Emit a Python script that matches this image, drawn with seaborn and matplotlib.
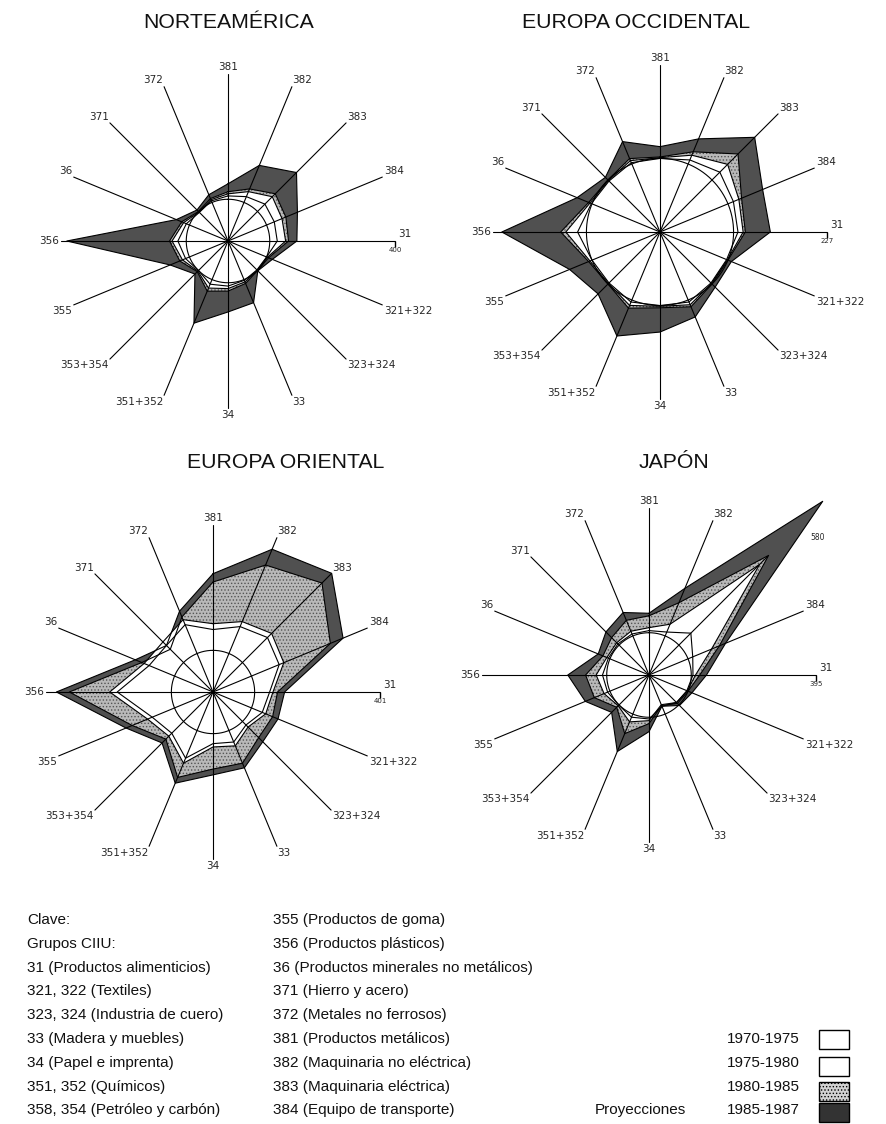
import numpy as np
import pandas as pd
import matplotlib
matplotlib.use("Agg")
import matplotlib.pyplot as plt
import seaborn as sns
from matplotlib.patches import Rectangle

# spokes clockwise from the top
SPOKES = ["381", "382", "383", "384", "31", "321+322", "323+324", "33",
          "34", "351+352", "353+354", "355", "356", "36", "371", "372"]
PERIODS = ["1970-1975", "1975-1980", "1980-1985", "1985-1987"]
REGIONS = ["NORTEAMÉRICA", "EUROPA OCCIDENTAL", "EUROPA ORIENTAL", "JAPÓN"]
SCALE_MAX = [400, 227, 401, 395]
BASE = 100  # 1970 = 100

# index levels at the end of each period
na_1975 = [108, 115, 125, 120, 118, 100, 98, 102, 108, 112, 100, 110, 120, 108, 97, 104]
na_1980 = [113, 128, 150, 140, 138, 102, 99, 106, 114, 122, 102, 118, 134, 115, 98, 107]
na_1985 = [118, 135, 160, 150, 145, 105, 100, 110, 120, 130, 104, 125, 140, 120, 100, 110]
na_1987 = [137, 196, 232, 180, 165, 115, 101, 160, 170, 213, 112, 150, 386, 134, 105, 120]

eo_1975 = [100, 106, 115, 108, 106, 98, 98, 103, 100, 103, 98, 100, 112, 101, 98, 102]
eo_1980 = [101, 113, 130, 116, 113, 99, 99, 107, 101, 108, 99, 103, 128, 103, 99, 105]
eo_1985 = [102, 118, 150, 120, 116, 100, 100, 110, 103, 112, 100, 105, 135, 105, 100, 108]
eo_1987 = [116, 137, 182, 151, 150, 105, 106, 125, 136, 153, 119, 133, 215, 122, 105, 133]

eor_1975 = [150, 170, 185, 172, 136, 128, 112, 130, 124, 172, 140, 158, 230, 166, 158, 175]
eor_1980 = [164, 183, 199, 184, 144, 137, 119, 140, 132, 185, 150, 170, 248, 179, 170, 188]
eor_1985 = [264, 330, 370, 305, 155, 155, 155, 185, 185, 222, 160, 210, 345, 185, 145, 195]
eor_1987 = [284, 371, 403, 338, 172, 169, 169, 197, 199, 237, 173, 226, 376, 202, 158, 210]

jp_1975 = [105, 110, 140, 112, 104, 97, 92, 80, 104, 108, 101, 106, 110, 104, 104, 105]
jp_1980 = [112, 130, 370, 160, 110, 98, 92, 76, 108, 120, 103, 115, 125, 108, 108, 112]
jp_1985 = [140, 185, 400, 180, 120, 100, 95, 78, 115, 150, 108, 140, 150, 118, 125, 140]
jp_1987 = [146, 222, 581, 196, 136, 110, 102, 80, 134, 196, 125, 163, 192, 130, 144, 160]

VALUES = [
    [na_1975, na_1980, na_1985, na_1987],
    [eo_1975, eo_1980, eo_1985, eo_1987],
    [eor_1975, eor_1980, eor_1985, eor_1987],
    [jp_1975, jp_1980, jp_1985, jp_1987],
]
JP_PEAK_LABEL = "580"

clave_col1 = ["Clave:", "Grupos CIIU:", "31 (Productos alimenticios)",
              "321, 322 (Textiles)", "323, 324 (Industria de cuero)",
              "33 (Madera y muebles)", "34 (Papel e imprenta)",
              "351, 352 (Químicos)", "358, 354 (Petróleo y carbón)"]
clave_col2 = ["355 (Productos de goma)", "356 (Productos plásticos)",
              "36 (Productos minerales no metálicos)", "371 (Hierro y acero)",
              "372 (Metales no ferrosos)", "381 (Productos metálicos)",
              "382 (Maquinaria no eléctrica)", "383 (Maquinaria eléctrica)",
              "384 (Equipo de transporte)"]

# layout in pixels of the 887x1124 picture
W, H = 887, 1124
CENTERS = [(228, 241), (660, 232), (213, 692), (649, 675)]
R_PX = 167
TITLE_POS = [(143, 22), (522, 22), (187, 462), (639, 462)]

DARK = "#505050"
STIP = "#b9b9b9"
STIP_DOTS = "#555555"

sns.set_theme(style="white")
plt.rcParams["font.family"] = ["Liberation Sans", "DejaVu Sans"]
plt.rcParams["hatch.linewidth"] = 0.6

fig = plt.figure(figsize=(W / 100, H / 100), dpi=100)
fig.patch.set_facecolor("white")

# full-figure axes in pixel coords for titles and the key
lax = fig.add_axes([0, 0, 1, 1])
lax.set_xlim(0, W)
lax.set_ylim(H, 0)
lax.set_axis_off()

theta = np.arange(len(SPOKES)) * 2 * np.pi / len(SPOKES)
theta_c = np.append(theta, 2 * np.pi)


def close(v):
    return np.append(v, v[0])


def draw_radar(ax, series, smax, peak_label=None):
    # painter's order: outer period first
    ax.fill(theta_c, close(series[3]), facecolor=DARK, edgecolor="none", zorder=1, clip_on=False)
    ax.fill(theta_c, close(series[2]), facecolor=STIP, edgecolor=STIP_DOTS, hatch=".....",
            linewidth=0, zorder=2, clip_on=False)
    ax.fill(theta_c, close(series[1]), facecolor="white", edgecolor="none", zorder=3, clip_on=False)
    ax.fill(theta_c, close(series[0]), facecolor="white", edgecolor="none", zorder=4, clip_on=False)

    rows = []
    for p, vals in zip(PERIODS, series):
        for t, r in zip(theta_c, close(vals)):
            rows.append({"theta": t, "r": r, "period": p})
    df = pd.DataFrame(rows)
    sns.lineplot(data=df, x="theta", y="r", hue="period",
                 palette={p: "black" for p in PERIODS}, sort=False, estimator=None,
                 legend=False, lw=0.8, ax=ax, clip_on=False, zorder=5)

    circ = np.linspace(0, 2 * np.pi, 361)
    ax.plot(circ, np.full_like(circ, BASE), color="black", lw=0.8, zorder=6)

    for k, (t, lab) in enumerate(zip(theta, SPOKES)):
        ax.plot([t, t], [0, smax], color="black", lw=0.8, zorder=7, clip_on=False)
        if lab == "31":
            ax.plot([t], [smax], marker=3, markersize=4, color="black", clip_on=False, zorder=7)
            ax.annotate("31", (t, smax), xytext=(2, 1.5), textcoords="offset points",
                        ha="left", va="bottom", fontsize=7.5, family="DejaVu Sans",
                        annotation_clip=False)
            ax.annotate(str(smax), (t, smax), xytext=(0, -4.5), textcoords="offset points",
                        ha="center", va="top", fontsize=5, family="DejaVu Sans",
                        annotation_clip=False)
            continue
        if lab == "383" and peak_label is not None:
            ax.annotate(peak_label, (t, series[3][k]), xytext=(-4, -26),
                        textcoords="offset points", ha="center", va="center",
                        fontsize=5.5, family="DejaVu Sans", annotation_clip=False)
            continue
        sx, cy = np.sin(t), np.cos(t)
        ha = "left" if sx > 0.1 else ("right" if sx < -0.1 else "center")
        va = "bottom" if cy > 0.1 else ("top" if cy < -0.1 else "center")
        ax.text(t, smax * 1.01, lab, ha=ha, va=va, fontsize=7.5, family="DejaVu Sans")

    ax.set_theta_zero_location("N")
    ax.set_theta_direction(-1)
    ax.set_ylim(0, smax)
    ax.set_axis_off()


for i, region in enumerate(REGIONS):
    cx, cy = CENTERS[i]
    ax = fig.add_axes([(cx - R_PX) / W, 1 - (cy + R_PX) / H, 2 * R_PX / W, 2 * R_PX / H],
                      projection="polar")
    draw_radar(ax, VALUES[i], SCALE_MAX[i], JP_PEAK_LABEL if region == "JAPÓN" else None)
    tx, ty = TITLE_POS[i]
    lax.text(tx, ty, region, ha="left", va="center", fontsize=15.3, color="#111111")

# key
row_y = [920 + 23.8 * k for k in range(len(clave_col1))]
for y, s in zip(row_y, clave_col1):
    lax.text(27, y, s, ha="left", va="center", fontsize=11, color="#111111")
for y, s in zip(row_y, clave_col2):
    lax.text(273, y, s, ha="left", va="center", fontsize=11, color="#111111")

box_y = [1030, 1057, 1082, 1103]
box_face = ["white", "white", "#d2d2d2", "#333333"]
box_hatch = [None, None, ".....", None]
for k, p in enumerate(PERIODS):
    lax.text(727, row_y[5 + k], p, ha="left", va="center", fontsize=11, color="#111111")
    lax.add_patch(Rectangle((819, box_y[k]), 30, 19, facecolor=box_face[k],
                            edgecolor="black", hatch=box_hatch[k], lw=1))
lax.text(595, row_y[8], "Proyecciones", ha="left", va="center", fontsize=11, color="#111111")

fig.savefig("out.png", dpi=100, facecolor="white")
